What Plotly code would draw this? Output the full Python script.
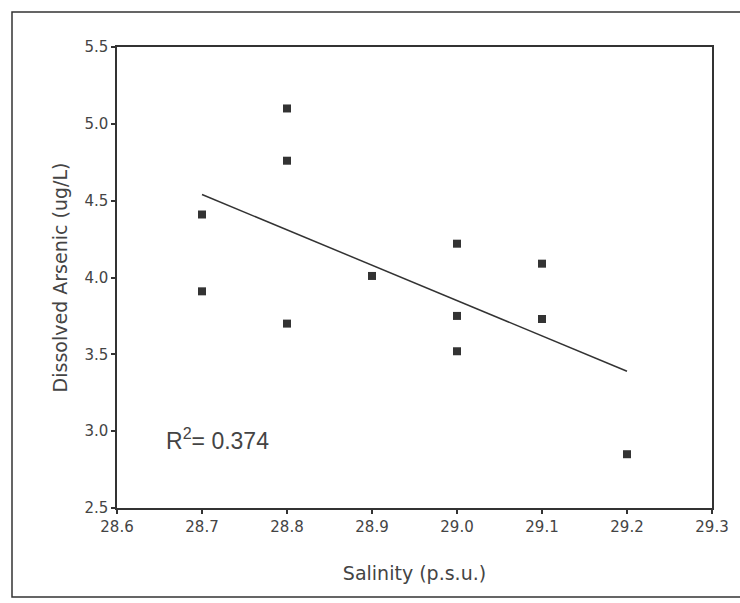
import plotly.graph_objects as go

salinity = [28.7, 28.7, 28.8, 28.8, 28.8, 28.9, 29.0, 29.0, 29.0, 29.1, 29.1, 29.2]
arsenic = [4.41, 3.91, 5.10, 4.76, 3.70, 4.01, 4.22, 3.75, 3.52, 4.09, 3.73, 2.85]
fit_x = [28.7, 29.2]
fit_y = [4.54, 3.39]
x_ticks = [28.6, 28.7, 28.8, 28.9, 29.0, 29.1, 29.2, 29.3]
y_ticks = [2.5, 3.0, 3.5, 4.0, 4.5, 5.0, 5.5]
r2_text = "R<sup>2</sup>= 0.374"

ink = "#333333"
fig = go.Figure()
fig.add_trace(go.Scatter(x=fit_x, y=fit_y, mode="lines",
                         line=dict(color=ink, width=1.5), showlegend=False))
fig.add_trace(go.Scatter(x=salinity, y=arsenic, mode="markers",
                         marker=dict(symbol="square", size=8, color=ink),
                         showlegend=False))

fig.add_annotation(x=28.655, y=2.95, xref="x", yref="y", text=r2_text,
                   showarrow=False, xanchor="left", yanchor="middle",
                   font=dict(family="Liberation Sans, Arial", size=23, color="#444444"))

tickfont = dict(family="DejaVu Sans, Verdana", size=15, color="#444444")
titlefont = dict(family="DejaVu Sans, Verdana", size=19, color="#444444")
fig.update_xaxes(range=[28.6, 29.3], tickvals=x_ticks,
                 ticktext=[f"{v:.1f}" for v in x_ticks],
                 showline=True, linecolor=ink, linewidth=1.5, mirror=True,
                 ticks="outside", ticklen=4, tickcolor=ink, tickwidth=2,
                 showgrid=False, zeroline=False, tickfont=tickfont,
                 title=dict(text="Salinity (p.s.u.)", standoff=32, font=titlefont))
fig.update_yaxes(range=[2.5, 5.5], tickvals=y_ticks,
                 ticktext=[f"{v:.1f}" for v in y_ticks],
                 showline=True, linecolor=ink, linewidth=1.5, mirror=True,
                 ticks="outside", ticklen=4, tickcolor=ink, tickwidth=2,
                 showgrid=False, zeroline=False, tickfont=tickfont,
                 title=dict(text="Dissolved Arsenic (ug/L)", standoff=12, font=titlefont))

# outer frame around the figure
fig.add_shape(type="rect", xref="paper", yref="paper",
              x0=-117/595 + 12/595, x1=1 + 40/595, y0=-96/461 + 7/461, y1=1 + 35/461,
              line=dict(color=ink, width=1.5), layer="below")

fig.update_layout(width=740, height=603, paper_bgcolor="white", plot_bgcolor="white",
                  margin=dict(l=117, r=28, t=47, b=95))
fig.write_html("out.html")
